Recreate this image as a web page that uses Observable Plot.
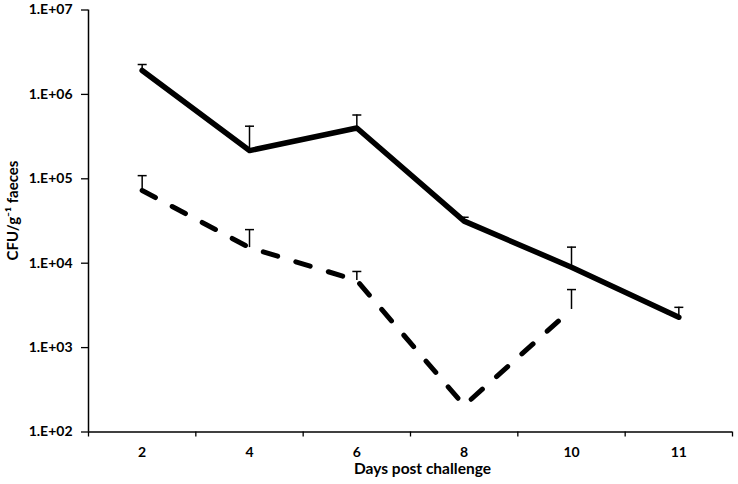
<!DOCTYPE html>
<html>
<head>
<meta charset="utf-8">
<script src="https://cdn.jsdelivr.net/npm/d3@7"></script>
<script src="https://cdn.jsdelivr.net/npm/@observablehq/plot@0.6"></script>
<style>
  html, body { margin: 0; padding: 0; background: #fff; }
  svg { font-family: Lato, "Open Sans", sans-serif; font-weight: bold; }
</style>
</head>
<body>
<div id="chart"></div>
<script>
// Categories (days post challenge)
const days = ["2", "4", "6", "8", "10", "11"];
// Solid series: mean and upper error
const solidMean = [1.92e6, 2.16e5, 4.0e5, 3.15e4, 8.97e3, 2.29e3];
const solidUpper = [2.26e6, 4.2e5, 5.7e5, 3.5e4, 1.55e4, 3.0e3];
// Dashed series: mean and upper error (no data at day 11)
const dashedMean = [7.26e4, 1.53e4, 6.24e3, 2.06e2, 2.83e3];
const dashedUpper = [1.09e5, 2.5e4, 7.98e3, null, 4.87e3];
// Y tick values
const yTicks = [1e2, 1e3, 1e4, 1e5, 1e6, 1e7];

const solid = solidMean.map((v, i) => ({i, v, up: solidUpper[i]}));
const dashed = dashedMean.map((v, i) => ({i, v, up: dashedUpper[i]}));
const errs = [...solid, ...dashed].filter(d => d.up != null && d.up > d.v * 1.02);

const capSymbol = {
  draw(ctx) { ctx.moveTo(-4.5, 0); ctx.lineTo(4.5, 0); }
};

const fmt = d => "1.E+" + String(Math.round(Math.log10(d))).padStart(2, "0");

const chart = Plot.plot({
  width: 738,
  height: 484,
  marginLeft: 88,
  marginRight: 6,
  marginTop: 9.5,
  marginBottom: 52.5,
  style: {fontFamily: "Lato, 'Open Sans', sans-serif", fontWeight: "bold", fontSize: "14px", color: "#000"},
  x: {type: "linear", domain: [-0.5, days.length - 0.5]},
  y: {type: "log", domain: [1e2, 1e7]},
  marks: [
    Plot.axisY(yTicks, {tickSize: 7, tickPadding: 9, tickFormat: fmt, label: null, fontSize: 14, strokeWidth: 1.3}),
    Plot.axisX(d3.range(days.length), {tickSize: 0, tickPadding: 15, tickFormat: i => days[i], label: null, fontSize: 14}),
    Plot.axisX(d3.range(-0.5, days.length, 1), {tickSize: 5, tickFormat: () => "", label: null, strokeWidth: 1.3}),
    Plot.ruleY([1e2], {stroke: "#000", strokeWidth: 1.5}),
    Plot.ruleX([-0.5], {stroke: "#000", strokeWidth: 1.5}),
    Plot.text(["CFU/g\u207B\u00B9 faeces"], {frameAnchor: "left", textAnchor: "middle", rotate: -90, dx: -75.5, dy: -10.5, fontSize: 15, fontWeight: "bold", letterSpacing: 0.4}),
    Plot.text(["Days post challenge"], {frameAnchor: "bottom", textAnchor: "middle", dy: 41.5, dx: 12, fontSize: 15.5, fontWeight: "bold", letterSpacing: 0.4}),
    Plot.ruleX(errs, {x: "i", y1: "v", y2: "up", stroke: "#000", strokeWidth: 1.5}),
    Plot.dot(errs, {x: "i", y: "up", symbol: capSymbol, r: 4.5, stroke: "#000", strokeWidth: 1.5, fill: "none"}),
    Plot.line(solid, {x: "i", y: "v", stroke: "#000", strokeWidth: 5.5, strokeLinejoin: "round", strokeLinecap: "round"}),
    Plot.line(dashed, {x: "i", y: "v", stroke: "#000", strokeWidth: 5, strokeDasharray: "15,19", strokeLinecap: "round", strokeLinejoin: "round"})
  ]
});
document.getElementById("chart").appendChild(chart);
</script>
</body>
</html>
